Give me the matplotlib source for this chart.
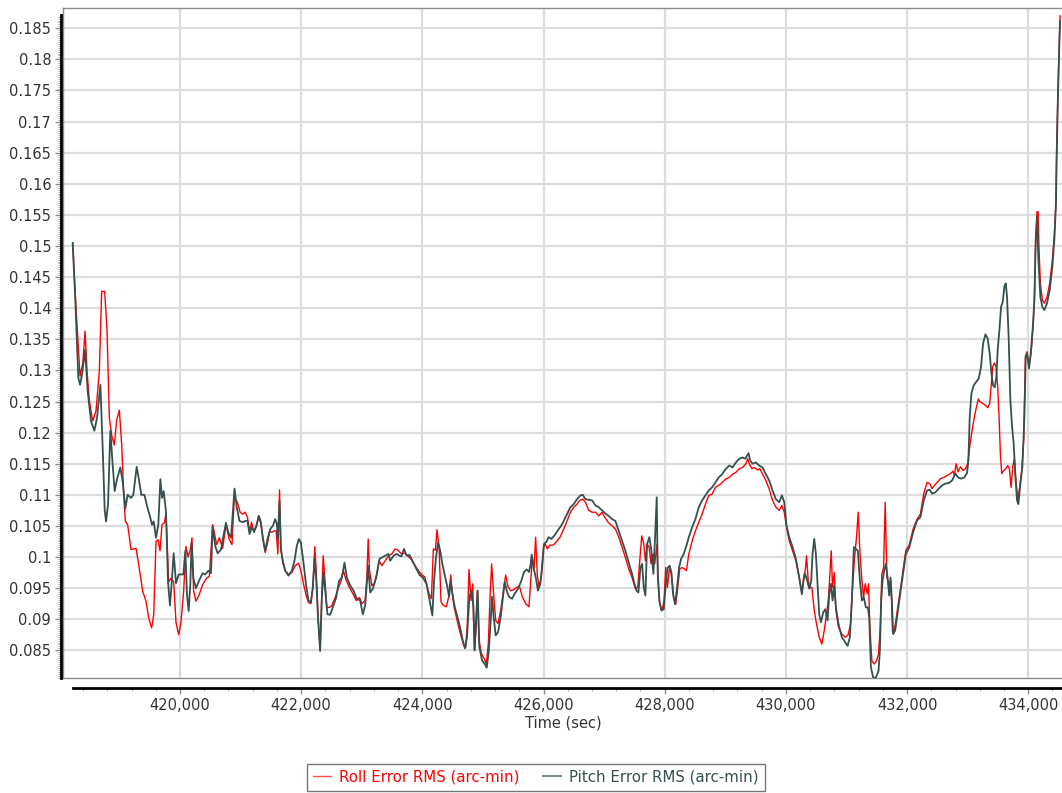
import matplotlib
matplotlib.use("Agg")
import matplotlib.pyplot as plt
import numpy as np
from matplotlib.ticker import MultipleLocator, FuncFormatter, FixedLocator
from matplotlib.lines import Line2D

plt.rcParams['font.family'] = ['DejaVu Sans']

roll_t = [418229, 418284, 418350, 418394, 418433, 418466, 418504, 418559, 418614, 418669,
          418707, 418757, 418795, 418834, 418873, 418916, 418955, 418999, 419038, 419071,
          419098, 419136, 419191, 419274, 419318, 419384, 419439, 419483, 419532, 419566,
          419604, 419637, 419670, 419703, 419742, 419769, 419813, 419852, 419896, 419934,
          419978, 420016, 420060, 420099, 420132, 420170, 420198, 420225, 420264, 420319,
          420374, 420440, 420484, 420539, 420567, 420605, 420649, 420704, 420759, 420814,
          420858, 420896, 420948, 420992, 421036, 421076, 421114, 421147, 421180, 421214,
          421258, 421296, 421335, 421368, 421406, 421445, 421478, 421516, 421555, 421588,
          421615, 421643, 421665, 421698, 421736, 421791, 421846, 421901, 421956, 421994,
          422038, 422082, 422121, 422160, 422192, 422225, 422247, 422280, 422313, 422341,
          422363, 422390, 422423, 422467, 422506, 422561, 422616, 422660, 422698, 422743,
          422798, 422853, 422908, 422963, 423001, 423056, 423084, 423106, 423128, 423166,
          423205, 423249, 423287, 423331, 423386, 423441, 423496, 423551, 423599, 423654,
          423709, 423764, 423819, 423874, 423929, 423984, 424039, 424077, 424110, 424149,
          424182, 424215, 424242, 424275, 424308, 424347, 424396, 424435, 424468, 424490,
          424523, 424561, 424605, 424644, 424682, 424715, 424743, 424770, 424803, 424831,
          424858, 424885, 424908, 424935, 424974, 425018, 425056, 425089, 425117, 425144,
          425172, 425210, 425249, 425293, 425331, 425375, 425414, 425458, 425502, 425551,
          425606, 425650, 425705, 425760, 425788, 425815, 425842, 425870, 425897, 425925,
          425963, 426001, 426029, 426062, 426100, 426155, 426210, 426278, 426333, 426388,
          426443, 426498, 426553, 426597, 426647, 426691, 426746, 426801, 426856, 426911,
          426966, 427010, 427065, 427131, 427186, 427241, 427296, 427351, 427406, 427461,
          427516, 427555, 427588, 427621, 427654, 427681, 427709, 427742, 427775, 427808,
          427835, 427874, 427890, 427918, 427956, 427989, 428017, 428044, 428077, 428110,
          428149, 428182, 428215, 428248, 428287, 428325, 428358, 428398, 428453, 428507,
          428562, 428617, 428672, 428727, 428782, 428837, 428919, 429002, 429065, 429120,
          429175, 429230, 429285, 429340, 429368, 429395, 429439, 429478, 429533, 429571,
          429615, 429670, 429725, 429780, 429835, 429890, 429934, 429973, 430011, 430055,
          430110, 430165, 430220, 430264, 430297, 430319, 430341, 430369, 430396, 430429,
          430468, 430506, 430550, 430594, 430633, 430671, 430704, 430726, 430748, 430770,
          430798, 430825, 430869, 430924, 430979, 431023, 431067, 431100, 431133, 431166,
          431194, 431221, 431254, 431282, 431309, 431342, 431364, 431386, 431419, 431458,
          431496, 431529, 431557, 431584, 431612, 431639, 431667, 431705, 431733, 431760,
          431788, 431815, 431900, 431980, 432035, 432100, 432165, 432220, 432275, 432330,
          432374, 432413, 432451, 432495, 432550, 432605, 432660, 432715, 432759, 432781,
          432809, 432842, 432880, 432924, 432963, 433001, 433034, 433073, 433111, 433144,
          433177, 433210, 433249, 433293, 433331, 433364, 433386, 433414, 433441, 433469,
          433496, 433518, 433540, 433562, 433595, 433628, 433661, 433689, 433716, 433744,
          433771, 433793, 433826, 433859, 433892, 433925, 433953, 433980, 434013, 434046,
          434079, 434101, 434123, 434145, 434162, 434178, 434200, 434233, 434266, 434310,
          434354, 434398, 434431, 434458, 434468, 434490, 434510, 434525]
roll_v = [.1505, .1400, .1291, .1310, .1363, .1298, .1251, .1219, .1235, .1300,
          .1427, .1427, .1366, .1224, .1195, .1180, .1220, .1236, .1180, .1100,
          .1058, .1052, .1012, .1014, .0988, .0945, .0929, .0902, .0886, .0907,
          .1025, .1028, .1010, .1052, .1055, .1070, .0960, .0966, .0960, .0895,
          .0875, .0895, .0945, .1017, .1000, .1012, .1031, .0945, .0929, .0940,
          .0956, .0966, .0969, .1052, .1039, .1020, .1031, .1014, .1052, .1028,
          .1020, .1095, .1088, .1072, .1069, .1072, .1064, .1040, .1056, .1042,
          .1048, .1066, .1053, .1032, .1007, .1023, .1040, .1040, .1042, .1042,
          .1005, .1108, .1010, .0994, .0978, .0972, .0975, .0986, .0990, .0978,
          .0957, .0938, .0927, .0925, .0951, .1017, .0978, .0903, .0850, .0941,
          .1002, .0967, .0919, .0919, .0922, .0935, .0951, .0962, .0978, .0962,
          .0951, .0941, .0930, .0935, .0925, .0930, .0967, .1029, .0978, .0954,
          .0957, .0973, .0994, .0986, .0994, .1002, .1005, .1013, .1011, .1005,
          .1006, .1001, .0996, .0987, .0979, .0972, .0968, .0954, .0941, .0933,
          .1013, .1011, .1044, .1016, .0928, .0922, .0920, .0936, .0971, .0946,
          .0920, .0904, .0885, .0871, .0858, .0855, .0893, .0980, .0930, .0957,
          .0850, .0882, .0946, .0866, .0845, .0837, .0828, .0861, .0936, .0989,
          .0946, .0898, .0893, .0914, .0941, .0971, .0952, .0946, .0947, .0951,
          .0952, .0936, .0925, .0920, .0962, .1000, .0979, .1032, .0971, .0952,
          .0968, .1016, .1021, .1013, .1019, .1019, .1024, .1033, .1045, .1058,
          .1072, .1080, .1085, .1091, .1093, .1088, .1075, .1072, .1072, .1066,
          .1072, .1064, .1056, .1050, .1045, .1032, .1016, .0999, .0981, .0967,
          .0949, .0951, .0994, .1034, .1021, .0994, .1021, .1016, .0989, .1005,
          .0989, .1021, .0962, .0924, .0914, .0930, .0983, .0951, .0981, .0973,
          .0935, .0924, .0951, .0981, .0983, .0981, .0978, .1005, .1026, .1042,
          .1056, .1069, .1085, .1099, .1101, .1112, .1117, .1125, .1128, .1133,
          .1136, .1142, .1144, .1150, .1158, .1150, .1142, .1144, .1140, .1142,
          .1133, .1123, .1109, .1091, .1080, .1075, .1083, .1072, .1048, .1026,
          .1010, .0994, .0967, .0943, .0970, .0978, .1002, .0962, .0951, .0951,
          .0914, .0892, .0871, .0860, .0882, .0908, .0935, .0973, .1010, .0951,
          .0975, .0914, .0887, .0876, .0871, .0874, .0892, .0951, .0999, .1032,
          .1072, .1010, .0962, .0935, .0957, .0941, .0957, .0887, .0833, .0828,
          .0833, .0844, .0887, .0973, .0983, .1088, .0967, .0957, .0962, .0879,
          .0882, .0898, .0955, .1011, .1019, .1045, .1061, .1069, .1102, .1120,
          .1118, .1110, .1115, .1120, .1126, .1128, .1131, .1134, .1138, .1131,
          .1150, .1137, .1145, .1139, .1142, .1150, .1177, .1204, .1225, .1241,
          .1254, .1249, .1247, .1244, .1240, .1247, .1273, .1306, .1312, .1306,
          .1273, .1225, .1166, .1134, .1139, .1142, .1147, .1142, .1112, .1145,
          .1158, .1128, .1091, .1112, .1139, .1188, .1322, .1330, .1306, .1327,
          .1370, .1413, .1510, .1555, .1555, .1494, .1440, .1413, .1408, .1418,
          .1440, .1478, .1520, .1574, .1650, .1750, .1820, .1870]

pitch_t = [418229, 418273, 418322, 418350, 418383, 418433, 418477, 418532, 418587, 418631,
           418686, 418724, 418757, 418779, 418812, 418850, 418889, 418922, 418960, 419015,
           419054, 419098, 419136, 419191, 419230, 419285, 419318, 419362, 419412, 419467,
           419505, 419538, 419566, 419604, 419642, 419676, 419703, 419731, 419769, 419802,
           419835, 419868, 419896, 419934, 419978, 420027, 420055, 420088, 420115, 420143,
           420170, 420192, 420220, 420264, 420319, 420374, 420418, 420467, 420511, 420539,
           420583, 420622, 420676, 420721, 420759, 420798, 420842, 420900, 420937, 420981,
           421036, 421076, 421114, 421147, 421185, 421224, 421268, 421302, 421335, 421368,
           421406, 421445, 421489, 421533, 421571, 421599, 421615, 421643, 421665, 421698,
           421736, 421791, 421846, 421890, 421928, 421962, 421995, 422038, 422082, 422121,
           422160, 422192, 422220, 422247, 422280, 422313, 422341, 422368, 422396, 422434,
           422478, 422522, 422578, 422627, 422671, 422715, 422754, 422809, 422864, 422919,
           422974, 423018, 423056, 423084, 423106, 423139, 423183, 423238, 423293, 423331,
           423386, 423441, 423469, 423524, 423579, 423623, 423654, 423698, 423736, 423791,
           423846, 423901, 423956, 424011, 424066, 424105, 424138, 424165, 424193, 424226,
           424259, 424292, 424330, 424369, 424413, 424440, 424468, 424495, 424534, 424578,
           424622, 424666, 424704, 424737, 424776, 424809, 424842, 424864, 424891, 424913,
           424941, 424985, 425029, 425062, 425095, 425128, 425150, 425177, 425210, 425249,
           425293, 425331, 425359, 425392, 425430, 425480, 425524, 425579, 425634, 425678,
           425722, 425760, 425788, 425804, 425832, 425870, 425908, 425947, 425980, 426007,
           426045, 426084, 426128, 426183, 426238, 426290, 426333, 426388, 426443, 426498,
           426553, 426608, 426647, 426691, 426746, 426801, 426856, 426911, 426966, 427021,
           427076, 427131, 427186, 427241, 427296, 427351, 427406, 427461, 427500, 427533,
           427566, 427599, 427627, 427654, 427681, 427709, 427747, 427780, 427813, 427841,
           427868, 427885, 427912, 427945, 427984, 428022, 428049, 428082, 428110, 428138,
           428171, 428204, 428237, 428270, 428314, 428358, 428398, 428453, 428507, 428562,
           428617, 428672, 428727, 428782, 428837, 428892, 428947, 429002, 429065, 429120,
           429175, 429230, 429285, 429329, 429384, 429411, 429450, 429505, 429560, 429615,
           429670, 429725, 429780, 429835, 429890, 429934, 429973, 430011, 430055, 430110,
           430165, 430220, 430264, 430291, 430319, 430352, 430385, 430418, 430440, 430468,
           430495, 430523, 430550, 430578, 430616, 430649, 430688, 430715, 430743, 430770,
           430798, 430825, 430869, 430924, 430979, 431018, 431056, 431089, 431122, 431155,
           431188, 431221, 431254, 431287, 431320, 431353, 431375, 431403, 431441, 431485,
           431529, 431551, 431573, 431595, 431623, 431650, 431678, 431705, 431727, 431749,
           431771, 431804, 431900, 431980, 432035, 432100, 432165, 432220, 432275, 432330,
           432374, 432413, 432468, 432523, 432578, 432633, 432688, 432743, 432798, 432842,
           432891, 432946, 432990, 433012, 433034, 433062, 433100, 433144, 433183, 433221,
           433254, 433293, 433331, 433364, 433392, 433419, 433447, 433474, 433496, 433524,
           433551, 433579, 433606, 433628, 433650, 433678, 433705, 433733, 433760, 433788,
           433815, 433837, 433870, 433903, 433936, 433958, 433980, 434013, 434046, 434079,
           434101, 434123, 434145, 434167, 434200, 434233, 434266, 434310, 434354, 434398,
           434431, 434458, 434468, 434490, 434510, 434525]
pitch_v = [.1505, .1411, .1288, .1277, .1293, .1333, .1266, .1218, .1203, .1224,
           .1277, .1175, .1076, .1057, .1084, .1203, .1148, .1106, .1125, .1144,
           .1121, .1078, .1100, .1095, .1100, .1145, .1127, .1100, .1100, .1078,
           .1065, .1052, .1057, .1031, .1052, .1125, .1095, .1106, .1073, .0960,
           .0922, .0966, .1006, .0958, .0972, .0972, .0972, .1010, .0940, .0913,
           .0956, .1022, .0966, .0950, .0963, .0974, .0972, .0978, .0974, .1049,
           .1017, .1006, .1012, .1036, .1055, .1039, .1031, .1110, .1080, .1058,
           .1056, .1058, .1058, .1037, .1048, .1040, .1053, .1066, .1056, .1029,
           .1010, .1029, .1045, .1050, .1061, .1053, .1029, .1090, .1015, .0991,
           .0978, .0970, .0978, .0994, .1018, .1029, .1023, .0991, .0954, .0930,
           .0927, .0951, .0997, .0967, .0898, .0849, .0935, .0975, .0946, .0908,
           .0907, .0919, .0935, .0962, .0967, .0991, .0967, .0954, .0946, .0933,
           .0930, .0908, .0922, .0957, .0986, .0943, .0949, .0967, .0997, .0999,
           .1002, .1005, .0994, .1002, .1005, .1002, .1001, .1013, .1003, .1003,
           .0992, .0981, .0971, .0967, .0957, .0938, .0920, .0906, .0962, .1000,
           .1024, .1011, .0989, .0971, .0952, .0936, .0960, .0941, .0920, .0904,
           .0887, .0866, .0853, .0871, .0936, .0946, .0922, .0850, .0909, .0946,
           .0855, .0834, .0828, .0822, .0847, .0898, .0936, .0904, .0874, .0879,
           .0904, .0936, .0960, .0946, .0936, .0933, .0941, .0949, .0962, .0976,
           .0980, .0976, .0989, .1004, .0984, .0968, .0946, .0957, .0989, .1021,
           .1024, .1032, .1029, .1035, .1043, .1050, .1058, .1069, .1080, .1085,
           .1093, .1099, .1100, .1093, .1092, .1091, .1083, .1080, .1075, .1070,
           .1066, .1061, .1058, .1042, .1026, .1010, .0991, .0973, .0957, .0946,
           .0943, .0983, .0989, .0951, .0938, .1021, .1032, .1010, .0973, .1032,
           .1096, .0973, .0930, .0914, .0916, .0962, .0983, .0986, .0975, .0940,
           .0924, .0951, .0983, .0997, .1005, .1018, .1032, .1048, .1061, .1080,
           .1091, .1099, .1107, .1112, .1120, .1128, .1133, .1141, .1147, .1144,
           .1152, .1158, .1160, .1158, .1167, .1155, .1150, .1152, .1147, .1144,
           .1133, .1123, .1107, .1093, .1088, .1099, .1088, .1050, .1032, .1016,
           .0997, .0967, .0940, .0962, .0973, .0962, .0949, .0962, .1005, .1029,
           .1005, .0957, .0908, .0895, .0911, .0916, .0898, .0940, .0957, .0930,
           .0954, .0919, .0892, .0871, .0863, .0857, .0871, .0930, .1016, .1013,
           .1010, .0962, .0930, .0935, .0919, .0919, .0903, .0823, .0806, .0806,
           .0817, .0849, .0930, .0962, .0978, .0989, .0967, .0938, .0967, .0930,
           .0876, .0882, .0950, .1005, .1015, .1040, .1059, .1064, .1091, .1107,
           .1108, .1102, .1104, .1110, .1115, .1118, .1119, .1123, .1134, .1128,
           .1126, .1128, .1135, .1155, .1225, .1263, .1276, .1282, .1287, .1306,
           .1343, .1358, .1351, .1327, .1295, .1276, .1273, .1290, .1333, .1365,
           .1402, .1410, .1435, .1440, .1418, .1349, .1252, .1209, .1182, .1128,
           .1091, .1085, .1118, .1145, .1225, .1322, .1327, .1303, .1333, .1375,
           .1413, .1510, .1547, .1478, .1418, .1402, .1397, .1408, .1429, .1467,
           .1510, .1569, .1640, .1740, .1815, .1862]

series_names = ["Roll Error RMS (arc-min)", "Pitch Error RMS (arc-min)"]
x_ticks = [420000, 422000, 424000, 426000, 428000, 430000, 432000, 434000]
x_label = "Time (sec)"

W, H = 1062, 793
fig = plt.figure(figsize=(W / 100, H / 100), dpi=100)
left_px, right_px, top_px, bot_px = 63, 1064, 8, 678
ax = fig.add_axes([left_px / W, 1 - bot_px / H, (right_px - left_px) / W, (bot_px - top_px) / H])

red = '#ff0000'
gray = '#35504f'
ax.plot(roll_t, roll_v, color=red, lw=1.0, label=series_names[0], zorder=3)
ax.plot(pitch_t, pitch_v, color=gray, lw=1.3, label=series_names[1], zorder=3)

xmin, xmax = 418069, 434590
ymin, ymax = 0.08055, 0.18826
ytop_axis = 0.18714
ax.set_xlim(xmin, xmax)
ax.set_ylim(ymin, ymax)

ax.set_xticks(x_ticks)
ax.xaxis.set_minor_locator(MultipleLocator(400))
ax.yaxis.set_major_locator(MultipleLocator(0.005))
minor_step = 0.005 / 16
ax.yaxis.set_minor_locator(FixedLocator(np.arange(0.08, ytop_axis, minor_step)))
ax.xaxis.set_major_formatter(FuncFormatter(lambda v, p: f"{int(round(v)):,}"))
ax.yaxis.set_major_formatter(FuncFormatter(lambda v, p: f"{v:.3f}".rstrip('0').rstrip('.')))

ax.grid(True, which='major', color='#dcdcdc', lw=1.6, zorder=0)
ax.set_axisbelow(True)

for s in ['top', 'right']:
    ax.spines[s].set_color('#8c8c8c')
    ax.spines[s].set_linewidth(1.0)
ax.spines['left'].set_position(('outward', 1.5))
ax.spines['left'].set_color('black')
ax.spines['left'].set_linewidth(2.0)
ax.spines['left'].set_bounds(ymin, ytop_axis)
ax.spines['bottom'].set_position(('outward', 7.5))
ax.spines['bottom'].set_color('black')
ax.spines['bottom'].set_linewidth(2.0)
ax.spines['bottom'].set_bounds(418234, xmax)

ax.add_line(Line2D([0, 0], [0, 1], transform=ax.transAxes, color='#8c8c8c', lw=1.0, clip_on=False, zorder=1))
ax.add_line(Line2D([0, 1], [0, 0], transform=ax.transAxes, color='#8c8c8c', lw=1.0, clip_on=False, zorder=1))

ax.tick_params(axis='both', which='major', colors='#8c8c8c', labelcolor='#333333', labelsize=10.5, length=4, width=1)
ax.tick_params(axis='both', which='minor', colors='#a8a8a8', length=2.5, width=0.7)
ax.tick_params(axis='y', which='major', pad=3)
ax.tick_params(axis='x', which='major', pad=3)

ax.set_xlabel(x_label, fontsize=10.5, color='#333333', labelpad=2)

leg = fig.legend(loc='center', bbox_to_anchor=(536 / W, 1 - 777 / H), ncol=2,
                 fontsize=10.8, frameon=True, fancybox=False, edgecolor='#555555',
                 handlelength=1.2, handletextpad=0.5, columnspacing=1.6,
                 borderpad=0.4, labelcolor='linecolor')
leg.get_frame().set_linewidth(1.0)
leg.legend_handles[0].set_color('#ff5050')
leg.legend_handles[1].set_color('#708080')

fig.savefig('out.png', dpi=100)
